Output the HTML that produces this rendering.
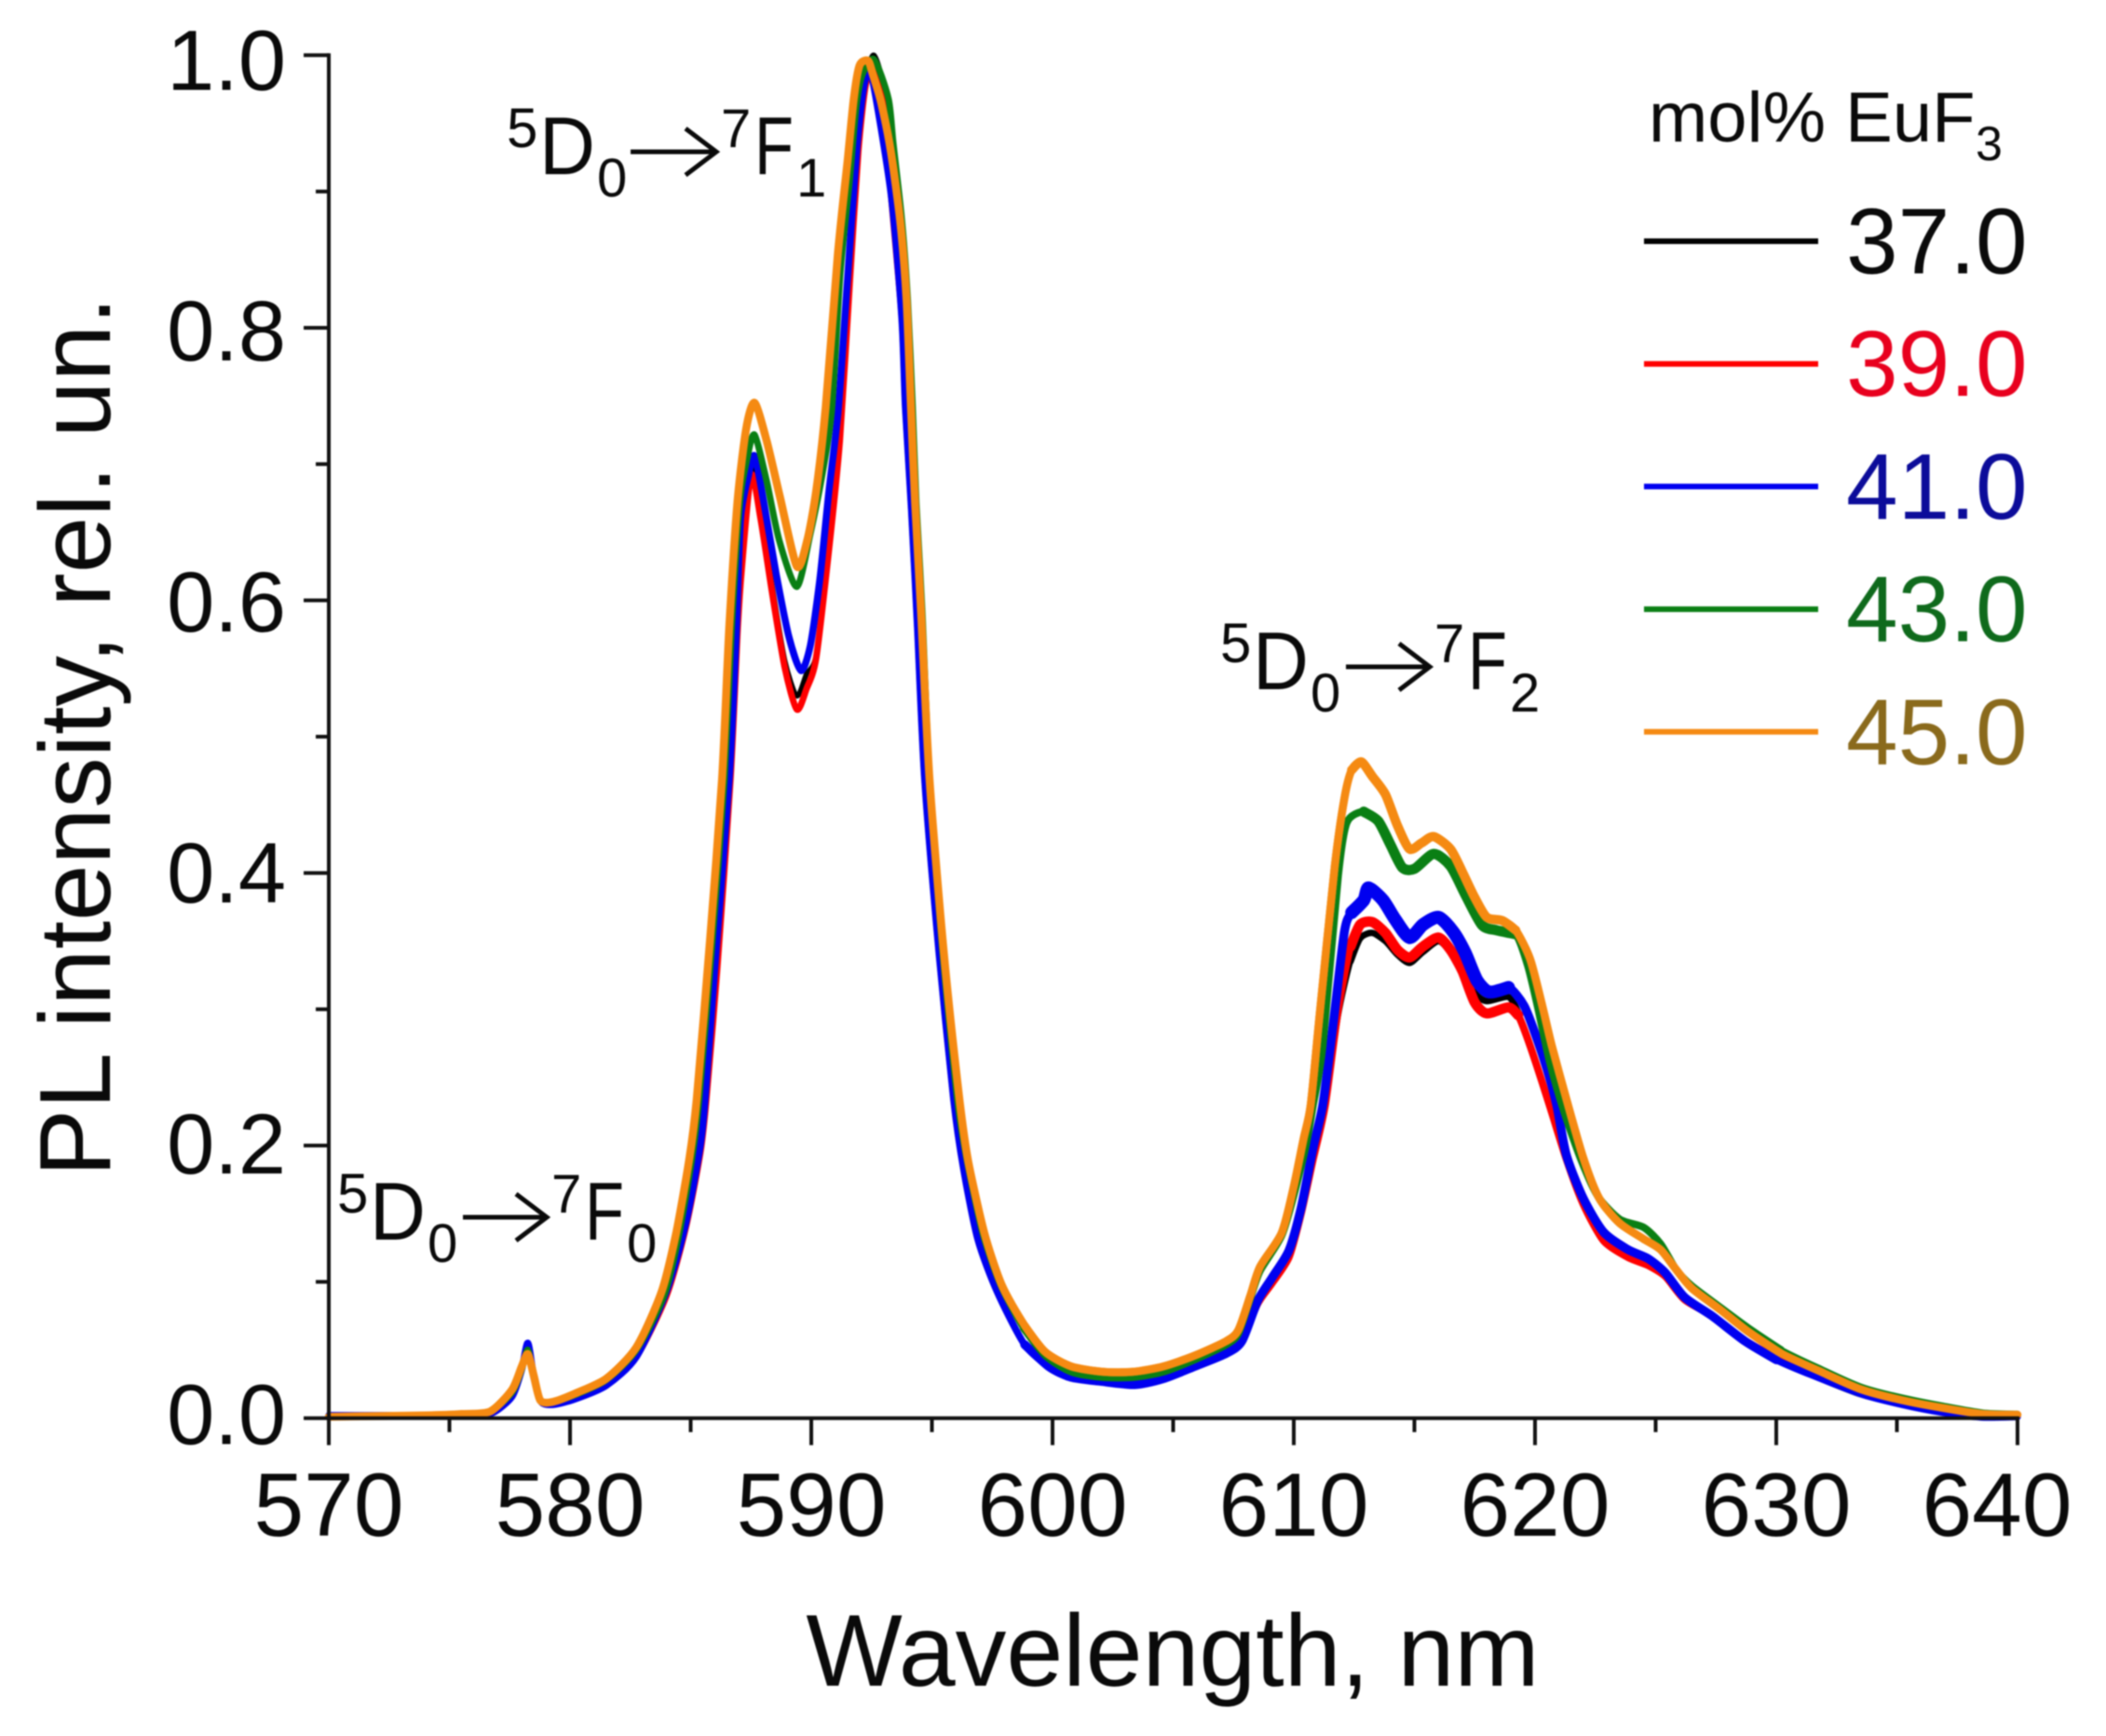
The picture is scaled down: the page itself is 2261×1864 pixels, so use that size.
<!DOCTYPE html>
<html lang="en">
<head>
<meta charset="utf-8">
<title>PL spectra</title>
<style>
html,body{margin:0;padding:0;background:#fff}
svg{display:block;filter:blur(.9px)}
text{font-family:"Liberation Sans",sans-serif;fill:#0a0a0a}
</style>
</head>
<body>
<svg id="chart" xmlns="http://www.w3.org/2000/svg" width="2261" height="1864" viewBox="0 0 2261 1864">
  <rect width="2261" height="1864" fill="#fff"/>
  <g id="series-layer"></g>
  <g id="axes-layer"></g>

  <text x="1259" y="1810" font-size="109.5" text-anchor="middle">Wavelength, nm</text>
  <text transform="translate(118,791) rotate(-90)" font-size="109" text-anchor="middle">PL intensity, rel. un.</text>

  <g>
    <text x="362" y="1302" font-size="60">5</text><text x="397" y="1331" font-size="88" textLength="60" lengthAdjust="spacingAndGlyphs">D</text><text x="459" y="1355" font-size="58">0</text>
    <path d="M497 1307H586M554 1282L587 1307L554 1332" fill="none" stroke="#0a0a0a" stroke-width="5"/>
    <text x="592" y="1302" font-size="58">7</text><text x="628" y="1331" font-size="88" textLength="42" lengthAdjust="spacingAndGlyphs">F</text><text x="673" y="1355" font-size="58">0</text>
  </g>
  <g>
    <text x="544" y="158" font-size="60">5</text><text x="579" y="187" font-size="88" textLength="60" lengthAdjust="spacingAndGlyphs">D</text><text x="641" y="211" font-size="58">0</text>
    <path d="M677 163H768M736 138L769 163L736 188" fill="none" stroke="#0a0a0a" stroke-width="5"/>
    <text x="774" y="158" font-size="58">7</text><text x="810" y="187" font-size="88" textLength="42" lengthAdjust="spacingAndGlyphs">F</text><text x="855" y="211" font-size="58">1</text>
  </g>
  <g>
    <text x="1310" y="711" font-size="60">5</text><text x="1345" y="740" font-size="88" textLength="60" lengthAdjust="spacingAndGlyphs">D</text><text x="1407" y="764" font-size="58">0</text>
    <path d="M1445 716H1533M1502 691L1535 716L1502 741" fill="none" stroke="#0a0a0a" stroke-width="5"/>
    <text x="1540" y="711" font-size="58">7</text><text x="1576" y="740" font-size="88" textLength="42" lengthAdjust="spacingAndGlyphs">F</text><text x="1621" y="764" font-size="58">2</text>
  </g>

  <g>
    <text x="1770" y="152" font-size="76">mol% EuF</text>
    <text x="2121" y="172" font-size="52">3</text>
    <g id="legend-entries"></g>
  </g>
</svg>
<script>
// Category labels and tick values
const seriesLabels = ["37.0", "39.0", "41.0", "43.0", "45.0"];
const xMajorTicks = [570, 580, 590, 600, 610, 620, 630, 640];
const xMinorTicks = [575, 585, 595, 605, 615, 625, 635];
const yMajorTicks = [0.0, 0.2, 0.4, 0.6, 0.8, 1.0];
const yMinorTicks = [0.1, 0.3, 0.5, 0.7, 0.9];

// 37.0 mol% (black)
const wavelength37 = [570,574,576,576.8,577.6,578,578.25,578.5,578.8,579.3,580.2,581.5,582.75,584,584.8,585.4,585.65,586.1,586.65,586.95,587.1,587.5,587.9,588.4,588.9,589.4,589.8,590.2,590.73,591.18,591.6,591.95,592.3,592.6,593,593.3,593.75,593.9,594.15,594.4,594.7,595.3,595.9,596.3,596.9,597.7,598.84,599.87,600.77,602,603.4,604.6,605.9,607.2,607.85,608.5,609.1,609.8,610.3,610.8,611.3,611.84,612.35,612.75,613.25,613.8,614.3,614.8,615.35,616,616.5,617,617.5,618,618.9,619.3,619.8,620.6,621.3,622,622.85,623.85,624.7,625.4,626.2,627.35,628.7,630,631.5,633.5,635.2,636.9,638.5,640];
const intensity37 = [0.002,0.002,0.003,0.004,0.016,0.036,0.053,0.03,0.012,0.01,0.014,0.024,0.045,0.09,0.14,0.195,0.234,0.33,0.469,0.58,0.62,0.698,0.665,0.608,0.556,0.53,0.546,0.56,0.637,0.717,0.835,0.93,0.985,1.0,0.975,0.899,0.808,0.742,0.667,0.58,0.469,0.34,0.234,0.184,0.1315,0.093,0.054,0.0375,0.03,0.027,0.027,0.031,0.04,0.05,0.058,0.086,0.101,0.12,0.15,0.19,0.2296,0.295,0.335,0.352,0.356,0.35,0.34,0.334,0.342,0.35,0.342,0.33,0.312,0.306,0.309,0.298,0.272,0.23,0.192,0.16,0.134,0.122,0.115,0.105,0.087,0.074,0.056,0.043,0.031,0.017,0.01,0.004,0.001,0.001];

// 39.0 mol% (red)
const wavelength39 = [570,574,576,576.8,577.6,578,578.25,578.5,578.8,579.3,580.2,581.5,582.75,584,584.8,585.4,585.65,586.1,586.65,586.95,587.1,587.5,587.9,588.4,588.9,589.4,589.8,590.2,590.73,591.18,591.6,591.95,592.25,592.55,593,593.3,593.75,593.9,594.15,594.4,594.7,595.3,595.9,596.3,596.9,597.7,598.84,599.87,600.77,602,603.4,604.6,605.9,607.2,607.85,608.5,609.1,609.8,610.3,610.8,611.3,611.84,612.35,612.75,613.25,613.8,614.3,614.8,615.35,616,616.5,617,617.5,618,618.9,619.3,619.8,620.6,621.3,622,622.85,623.85,624.7,625.4,626.2,627.35,628.7,630,631.5,633.5,635.2,636.9,638.5,640];
const intensity39 = [0.002,0.002,0.003,0.004,0.016,0.036,0.053,0.03,0.012,0.01,0.014,0.024,0.045,0.09,0.14,0.195,0.234,0.33,0.469,0.58,0.62,0.692,0.66,0.603,0.5508,0.52,0.535,0.5576,0.637,0.717,0.835,0.93,0.978,0.99,0.97,0.899,0.808,0.742,0.667,0.58,0.469,0.34,0.234,0.184,0.1315,0.093,0.054,0.0375,0.03,0.027,0.027,0.031,0.04,0.05,0.058,0.084,0.099,0.118,0.15,0.19,0.2296,0.3,0.346,0.362,0.364,0.356,0.3435,0.338,0.346,0.3526,0.3435,0.3277,0.305,0.297,0.3014,0.2957,0.273,0.2296,0.19,0.157,0.13,0.118,0.112,0.104,0.087,0.075,0.057,0.044,0.032,0.018,0.011,0.005,0.001,0.001];

// 41.0 mol% (blue)
const wavelength41 = [570,574,576,576.8,577.6,578,578.25,578.5,578.8,579.3,580.2,581.5,582.75,584,584.8,585.4,585.6,586,586.6,586.9,587.07,587.4,587.65,588.03,588.55,589.06,589.57,589.96,590.35,590.73,591.12,591.5,591.9,592.2,592.5,593.3,593.75,593.9,594.15,594.4,594.7,595.3,595.9,596.3,596.9,597.7,598.84,599.87,600.77,602,603.4,604.6,605.9,607.2,607.85,608.5,609.1,609.8,610.3,610.8,611.2,611.6,612.1,612.4,612.9,613.1,613.7,614.2,614.8,615.35,616,616.6,617.1,617.6,618.1,618.9,619.55,620.1,620.6,620.9,621.3,622,622.85,623.85,624.7,625.4,626.2,627.35,628.7,630,631.5,633.5,635.2,636.9,638.5,640];
const intensity41 = [0.002,0.002,0.003,0.004,0.016,0.036,0.055,0.03,0.012,0.01,0.014,0.024,0.045,0.093,0.143,0.2,0.234,0.33,0.469,0.58,0.66,0.692,0.706,0.672,0.619,0.574,0.5485,0.567,0.615,0.68,0.74,0.8355,0.9335,0.979,0.985,0.899,0.808,0.742,0.667,0.58,0.469,0.34,0.234,0.184,0.1315,0.093,0.054,0.0375,0.03,0.027,0.0246,0.029,0.038,0.0475,0.0565,0.086,0.103,0.123,0.154,0.198,0.2296,0.284,0.357,0.371,0.38,0.389,0.38,0.366,0.3526,0.362,0.3675,0.357,0.3415,0.321,0.3127,0.316,0.3025,0.2774,0.25,0.2296,0.193,0.1613,0.1363,0.1237,0.1169,0.1066,0.0886,0.0748,0.0565,0.0428,0.0314,0.0178,0.01,0.0041,0.0007,0.001];

// 43.0 mol% (green)
const wavelength43 = [570,574,575.5,576.7,577.6,578,578.25,578.5,578.77,579.3,580.2,581.5,582.75,583.9,584.5,585.05,585.35,585.9,586.4,586.7,587.04,587.35,587.65,588.15,588.67,589.4,589.96,590.47,590.85,591.2,591.6,591.85,592.1,592.6,593.2,593.4,593.75,594,594.2,594.35,594.6,594.9,595.45,596.05,596.45,597.1,597.85,598.8,599.7,600.77,602.06,603.35,604.6,605.9,607.2,607.7,608.2,608.6,609.5,610.05,610.5,610.8,611.2,611.84,612.2,612.9,613.5,614,614.5,615,615.8,616.5,617.1,617.8,618.4,619.2,619.7,620.1,620.6,621.2,621.9,622.6,623.5,624.5,625.2,625.85,626.5,627.7,628.85,630.2,631.85,633.5,635.2,636.9,638.55,640];
const intensity43 = [0.001,0.002,0.003,0.005,0.019,0.036,0.05,0.03,0.013,0.012,0.017,0.028,0.05,0.09,0.133,0.19,0.234,0.35,0.469,0.58,0.672,0.705,0.7215,0.6875,0.644,0.61,0.649,0.694,0.74,0.84,0.91,0.96,0.985,0.997,0.968,0.935,0.88,0.82,0.742,0.672,0.592,0.469,0.34,0.234,0.189,0.136,0.0975,0.066,0.046,0.034,0.03,0.03,0.034,0.043,0.054,0.062,0.088,0.108,0.134,0.167,0.2,0.2296,0.273,0.398,0.437,0.445,0.438,0.421,0.404,0.403,0.414,0.405,0.3845,0.3618,0.358,0.355,0.332,0.3025,0.262,0.225,0.19,0.163,0.146,0.14,0.128,0.109,0.097,0.081,0.066,0.05,0.036,0.023,0.015,0.009,0.004,0.003];

// 45.0 mol% (orange)
const wavelength45 = [570,574,575.5,576.7,577.6,578,578.25,578.5,578.77,579.3,580.2,581.5,582.75,583.8,584.4,584.95,585.25,585.8,586.3,586.6,586.94,587.3,587.65,588.15,588.7,589.4,589.83,590.2,590.6,591.1,591.5,591.76,592,592.35,592.55,592.9,593.3,593.7,593.95,594.13,594.3,594.55,594.9,595.5,596.14,596.5,597.17,597.9,598.84,599.7,600.77,602.06,603.35,604.6,605.9,607.2,607.7,608.2,608.6,609.5,610,610.4,610.7,611.07,611.7,612.1,612.4,612.8,613.25,613.8,614.3,614.8,615.3,615.8,616.5,617,617.5,618,618.65,619.2,619.8,620.3,620.7,621.3,622,622.66,623.5,624.5,625.2,625.85,626.5,627.7,628.85,630.2,631.85,633.5,635.2,636.9,638.55,640];
const intensity45 = [0.001,0.002,0.003,0.005,0.021,0.038,0.047,0.031,0.013,0.012,0.018,0.029,0.052,0.093,0.136,0.191,0.234,0.35,0.469,0.58,0.672,0.726,0.745,0.717,0.676,0.625,0.644,0.68,0.742,0.854,0.922,0.968,0.9925,0.996,0.986,0.965,0.929,0.876,0.82,0.742,0.672,0.592,0.469,0.34,0.234,0.189,0.136,0.0975,0.068,0.0485,0.038,0.034,0.034,0.038,0.046,0.0565,0.0645,0.09,0.111,0.136,0.17,0.2045,0.2296,0.2957,0.405,0.455,0.4756,0.4815,0.471,0.4576,0.4346,0.4175,0.422,0.4267,0.4175,0.4004,0.382,0.3675,0.365,0.358,0.3367,0.3025,0.273,0.234,0.191,0.1613,0.1431,0.1315,0.1237,0.109,0.0953,0.0793,0.0633,0.0475,0.034,0.0212,0.0132,0.0075,0.003,0.0025];

const seriesX = [wavelength37, wavelength39, wavelength41, wavelength43, wavelength45];
const seriesY = [intensity37, intensity39, intensity41, intensity43, intensity45];

// Styling (not data)
const lineColors = ["#000000", "#ff0000", "#0000f0", "#0a7f14", "#f58a12"];
const labelColors = ["#0a0a0a", "#e8001e", "#0c0c9a", "#0f6a1c", "#8a6a1c"];
const lineWidths = [5.5, 7, 7.5, 7, 8.5];
const mediumWidths = [6, 8, 9.5, 8, 8.5];
const noisyWidths = [7, 11, 14, 11, 10];

const NS = "http://www.w3.org/2000/svg";
const X0 = 353, X1 = 2166, Y0 = 1522.7, Y1 = 59.3;
function xScale(v) { return X0 + (v - 570) * (X1 - X0) / (640 - 570); }
function yScale(v) { return Y0 + v * (Y1 - Y0); }

// Smooth path through the data points (Catmull-Rom to Bezier)
function pathFrom(xs, ys, from, to) {
  const p = [];
  for (let i = 0; i < xs.length; i++) {
    if (xs[i] < from || xs[i] > to) continue;
    p.push([xScale(xs[i]), yScale(ys[i])]);
  }
  let d = "M" + p[0][0].toFixed(1) + " " + p[0][1].toFixed(1);
  for (let i = 0; i < p.length - 1; i++) {
    const a = p[Math.max(i - 1, 0)], b = p[i], c = p[i + 1], e = p[Math.min(i + 2, p.length - 1)];
    const c1x = b[0] + (c[0] - a[0]) / 8, c1y = b[1] + (c[1] - a[1]) / 8;
    const c2x = c[0] - (e[0] - b[0]) / 8, c2y = c[1] - (e[1] - b[1]) / 8;
    d += "C" + c1x.toFixed(1) + " " + c1y.toFixed(1) + " " + c2x.toFixed(1) + " " + c2y.toFixed(1) + " " + c[0].toFixed(1) + " " + c[1].toFixed(1);
  }
  return d;
}

const seriesLayer = document.getElementById("series-layer");
seriesLabels.forEach(function (label, i) {
  const g = document.createElementNS(NS, "g");
  
  
  g.setAttribute("fill", "none");
  g.setAttribute("stroke", lineColors[i]);
  g.setAttribute("stroke-linejoin", "round");
  g.setAttribute("stroke-linecap", "round");
  const line = document.createElementNS(NS, "path");
  
  
  line.setAttribute("d", pathFrom(seriesX[i], seriesY[i], 570, 640));
  line.setAttribute("stroke-width", lineWidths[i]);
  g.appendChild(line);
  const medium = document.createElementNS(NS, "path");
  
  
  medium.setAttribute("d", pathFrom(seriesX[i], seriesY[i], 598, 631));
  medium.setAttribute("stroke-width", mediumWidths[i]);
  g.appendChild(medium);
  const noisy = document.createElementNS(NS, "path");
  
  
  noisy.setAttribute("d", pathFrom(seriesX[i], seriesY[i], 612.3, 619.4));
  noisy.setAttribute("stroke-width", noisyWidths[i]);
  g.appendChild(noisy);
  seriesLayer.appendChild(g);
});

const axes = document.getElementById("axes-layer");
function addLine(x1, y1, x2, y2, name, w) {
  const l = document.createElementNS(NS, "line");
  
  
  l.setAttribute("x1", x1);
  l.setAttribute("y1", y1);
  l.setAttribute("x2", x2);
  l.setAttribute("y2", y2);
  l.setAttribute("stroke", "#111");
  l.setAttribute("stroke-width", w);
  axes.appendChild(l);
}
function addText(x, y, str, size, anchor, name, color) {
  const t = document.createElementNS(NS, "text");
  
  
  t.setAttribute("x", x);
  t.setAttribute("y", y);
  t.setAttribute("font-size", size);
  t.setAttribute("text-anchor", anchor);
  if (color) t.style.fill = color;
  t.textContent = str;
  return t;
}
addLine(X0, Y0 + 2, X0, Y1 - 2, "y-axis-line", 4);
addLine(X0 - 2, Y0, X1 + 2, Y0, "x-axis-line", 4);
xMajorTicks.forEach(function (v) {
  addLine(xScale(v), Y0, xScale(v), Y0 + 29, "x-major-tick-" + v, 4);
  const lx = v === 640 ? xScale(v) - 22 : xScale(v);
  axes.appendChild(addText(lx, 1649, String(v), 96.5, "middle", "x-tick-label-" + v));
});
xMinorTicks.forEach(function (v) {
  addLine(xScale(v), Y0, xScale(v), Y0 + 15, "x-minor-tick-" + v, 4);
});
yMajorTicks.forEach(function (v) {
  addLine(X0, yScale(v), X0 - 27, yScale(v), "y-major-tick-" + v.toFixed(1), 4);
  axes.appendChild(addText(307, yScale(v) + 28 + 9 * v, v.toFixed(1), 92, "end", "y-tick-label-" + v.toFixed(1)));
});
yMinorTicks.forEach(function (v) {
  addLine(X0, yScale(v), X0 - 14, yScale(v), "y-minor-tick-" + v.toFixed(1), 4);
});

const legend = document.getElementById("legend-entries");
seriesLabels.forEach(function (label, i) {
  const rowY = 259 + i * 131.7;
  const swatch = document.createElementNS(NS, "line");
  
  
  swatch.setAttribute("x1", 1765);
  swatch.setAttribute("y1", rowY);
  swatch.setAttribute("x2", 1952);
  swatch.setAttribute("y2", rowY);
  swatch.setAttribute("stroke", lineColors[i]);
  swatch.setAttribute("stroke-width", 6);
  legend.appendChild(swatch);
  legend.appendChild(addText(1982, rowY + 34.5, label, 100, "start", "legend-label-" + label, labelColors[i]));
});
</script>
</body>
</html>
